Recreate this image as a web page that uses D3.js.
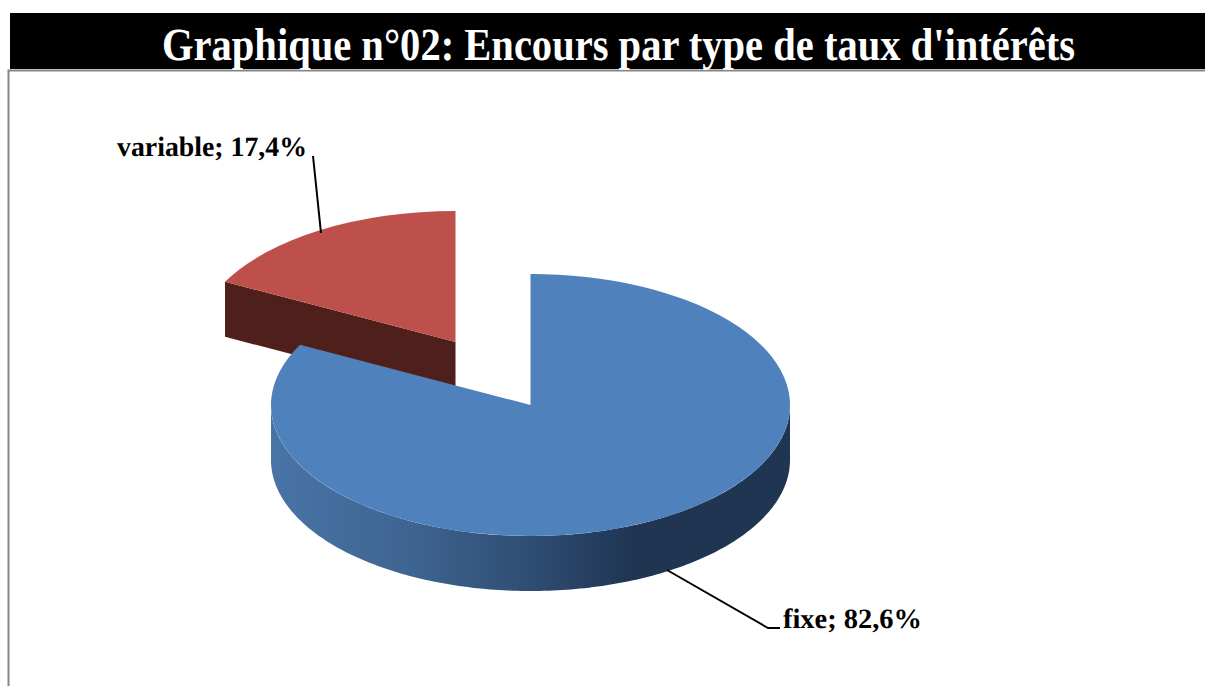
<!DOCTYPE html>
<html>
<head>
<meta charset="utf-8">
<script src="https://cdn.jsdelivr.net/npm/d3@7"></script>
<style>
html, body { margin: 0; padding: 0; background: #fff; overflow: hidden; }
text { font-family: "Liberation Serif", serif; font-weight: bold; text-rendering: geometricPrecision; }
</style>
</head>
<body>
<script>
var categories = ['fixe', 'variable'];
var values = [82.6, 17.4];
var titleText = "Graphique n°02: Encours par type de taux d'intérêts";

var width = 1205;
var height = 686;

var rx = 259.5;
var ry = 131;
var depth = 55;
var centers = { fixe: [530.5, 405], variable: [455.5, 342] };
var topColors = { fixe: '#4f81bd', variable: '#be504c' };

var svg = d3.select('body').append('svg')
    .attr('width', width)
    .attr('height', height);

// shaded side of the blue slice
var defs = svg.append('defs');
var grad = defs.append('linearGradient')
    .attr('id', 'wall')
    .attr('gradientUnits', 'userSpaceOnUse')
    .attr('x1', 271).attr('x2', 790).attr('y1', 0).attr('y2', 0);
grad.append('stop').attr('offset', '0%').attr('stop-color', '#4874a6');
grad.append('stop').attr('offset', '25%').attr('stop-color', '#3f6693');
grad.append('stop').attr('offset', '50%').attr('stop-color', '#2f4d73');
grad.append('stop').attr('offset', '70%').attr('stop-color', '#1f3552');
grad.append('stop').attr('offset', '100%').attr('stop-color', '#1f3552');

// header band and frame
svg.append('rect').attr('x', 10).attr('y', 13).attr('width', 1195).attr('height', 56).attr('fill', '#000');
svg.append('path')
    .attr('d', 'M8.5,686V70.5H1205')
    .attr('fill', 'none')
    .attr('stroke', '#868686')
    .attr('stroke-width', 2);
svg.append('text')
    .attr('x', 162)
    .attr('y', 60)
    .attr('fill', '#fff')
    .attr('font-size', 46)
    .attr('textLength', 913)
    .attr('lengthAdjust', 'spacingAndGlyphs')
    .text(titleText);

var pie = d3.pie().sort(null).value(function(d) { return d; });
var slices = pie(values);

var arc = d3.arc().innerRadius(0).outerRadius(rx);

// point on the flattened circle, angle measured clockwise from the top
function px(name, a) { return centers[name][0] + rx * Math.sin(a); }
function py(name, a) { return centers[name][1] - ry * Math.cos(a); }

var lineGen = d3.line();

function drawTop(name, slice) {
    svg.append('path')
        .attr('d', arc(slice))
        .attr('fill', topColors[name])
        .attr('transform', 'translate(' + centers[name][0] + ',' + centers[name][1] + ') scale(1,' + (ry / rx) + ')');
}

// variable goes first, the blue slice overlaps its cut face
var redSlice = slices[1];
var c = centers.variable;
var a0 = redSlice.startAngle;
svg.append('path')
    .attr('d', lineGen([
        [c[0], c[1]],
        [px('variable', a0), py('variable', a0)],
        [px('variable', a0), py('variable', a0) + depth],
        [c[0], c[1] + depth]
    ]) + 'Z')
    .attr('fill', '#4f1f1c');
drawTop('variable', redSlice);

// outer wall of the blue slice, front half only
var front = d3.range(Math.PI / 2, 3 * Math.PI / 2 + 0.001, Math.PI / 180).map(function(a) {
    return [px('fixe', a), py('fixe', a)];
});
var back = front.slice().reverse().map(function(p) { return [p[0], p[1] + depth]; });
svg.append('path')
    .attr('d', lineGen(front.concat(back)) + 'Z')
    .attr('fill', 'url(#wall)');
drawTop('fixe', slices[0]);

// leader lines and labels
var leaders = [
    [[313, 156], [321, 233]],
    [[667, 570], [768, 628], [780, 628]]
];
leaders.forEach(function(pts) {
    svg.append('path')
        .attr('d', lineGen(pts))
        .attr('fill', 'none')
        .attr('stroke', '#000')
        .attr('stroke-width', 2);
});

function labelText(i) {
    return categories[i] + '; ' + values[i].toFixed(1).replace('.', ',') + '%';
}
var labelPos = [[783, 628], [117, 156]];
var labelWidths = [139, 190];
categories.forEach(function(name, i) {
    svg.append('text')
        .attr('x', labelPos[i][0])
        .attr('y', labelPos[i][1])
        .attr('font-size', 28)
        .attr('textLength', labelWidths[i])
        .attr('lengthAdjust', 'spacingAndGlyphs')
        .attr('fill', '#000')
        .text(labelText(i));
});
</script>
</body>
</html>
